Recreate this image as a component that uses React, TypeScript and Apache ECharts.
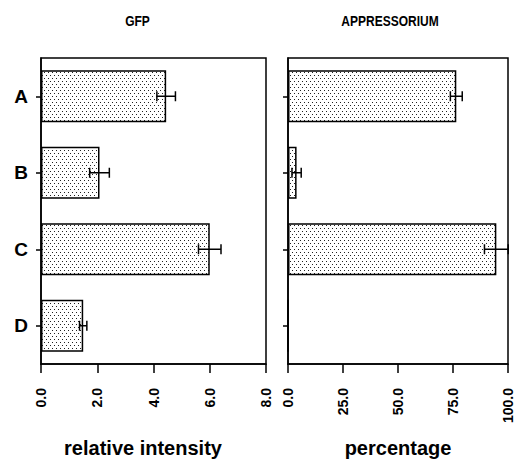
import React, { useEffect, useRef } from "react";
import * as echarts from "echarts";

const categories = ["A", "B", "C", "D"];
const gfpValues = [4.45, 2.08, 6.0, 1.5];
const gfpErrors = [0.33, 0.35, 0.4, 0.13];
const appValues = [76.5, 3.9, 94.7, 0];
const appErrors = [2.7, 2.1, 5.4, 0];
const gfpAxis = { min: 0, max: 8, interval: 2 };
const appAxis = { min: 0, max: 100, interval: 25 };
const panelTitles = ["GFP", "APPRESSORIUM"];
const axisNames = ["relative intensity", "percentage"];

const FONT = "'Liberation Sans', Arial, Helvetica, sans-serif";

function makePattern(): string {
  const c = document.createElement("canvas");
  c.width = 8;
  c.height = 6;
  const ctx = c.getContext("2d")!;
  ctx.fillStyle = "#ffffff";
  ctx.fillRect(0, 0, 8, 6);
  ctx.fillStyle = "#222222";
  ctx.fillRect(0, 0, 1, 1);
  ctx.fillRect(4, 0, 1, 1);
  ctx.fillRect(2, 3, 1, 1);
  ctx.fillRect(6, 3, 1, 1);
  return c.toDataURL();
}

function errorRender(params: any, api: any) {
  const v = api.value(0);
  const c = api.value(1);
  const e = api.value(2);
  if (!e) return null;
  const lo = api.coord([v - e, c]);
  const hi = api.coord([v + e, c]);
  const h = 5;
  const style = { stroke: "#000", lineWidth: 1.5 };
  return {
    type: "group",
    children: [
      { type: "line", shape: { x1: lo[0], y1: lo[1], x2: hi[0], y2: hi[1] }, style },
      { type: "line", shape: { x1: lo[0], y1: lo[1] - h, x2: lo[0], y2: lo[1] + h }, style },
      { type: "line", shape: { x1: hi[0], y1: hi[1] - h, x2: hi[0], y2: hi[1] + h }, style },
    ],
  };
}

export default function App() {
  const ref = useRef<HTMLDivElement>(null);
  useEffect(() => {
    if (!ref.current) return;
    const chart = echarts.init(ref.current, null, { renderer: "svg" });
    const pattern = {
      image: makePattern(),
      repeat: "repeat",
      imageWidth: 8,
      imageHeight: 6,
    };
    const axisLine = { show: true, lineStyle: { color: "#000", width: 1.5 } };
    const xAxisCommon = (ax: any, gridIndex: number) => ({
      type: "value",
      gridIndex,
      min: ax.min,
      max: ax.max,
      interval: ax.interval,
      axisLine,
      axisTick: { show: true, length: 9, lineStyle: { color: "#000", width: 1.5 } },
      splitLine: { show: false },
      axisLabel: {
        rotate: 90,
        margin: 24,
        color: "#000",
        fontFamily: FONT,
        fontWeight: "bold",
        fontSize: 14,
        formatter: (v: number) => v.toFixed(1),
      },
    });
    const yAxisCommon = (gridIndex: number, showLabel: boolean) => ({
      type: "category",
      gridIndex,
      data: categories,
      inverse: true,
      axisLine,
      axisTick: {
        show: true,
        alignWithLabel: true,
        length: 5,
        lineStyle: { color: "#000", width: 1.5 },
      },
      axisLabel: {
        show: showLabel,
        margin: 13,
        color: "#000",
        fontFamily: FONT,
        fontWeight: "bold",
        fontSize: 19,
      },
      splitLine: { show: false },
    });
    const barStyle = {
      color: pattern,
      borderColor: "#000",
      borderWidth: 1.5,
    };
    const titleText = (text: string, x: number) => ({
      type: "text",
      x,
      y: 21,
      scaleX: 0.8,
      style: {
        text,
        fill: "#000",
        font: `bold 15px ${FONT}`,
        textAlign: "center",
        textVerticalAlign: "middle",
      },
    });
    const nameText = (text: string, x: number) => ({
      type: "text",
      x,
      y: 448,
      style: {
        text,
        fill: "#000",
        font: `bold 20px ${FONT}`,
        textAlign: "center",
        textVerticalAlign: "middle",
      },
    });
    chart.setOption({
      animation: false,
      backgroundColor: "#fff",
      grid: [
        { left: 41, top: 58, width: 225, height: 306, show: true, borderColor: "#000", borderWidth: 1.5 },
        { left: 288, top: 58, width: 220, height: 306, show: true, borderColor: "#000", borderWidth: 1.5 },
      ],
      xAxis: [xAxisCommon(gfpAxis, 0), xAxisCommon(appAxis, 1)],
      yAxis: [yAxisCommon(0, true), yAxisCommon(1, false)],
      series: [
        {
          type: "bar",
          xAxisIndex: 0,
          yAxisIndex: 0,
          data: gfpValues,
          barWidth: 52,
          itemStyle: barStyle,
        },
        {
          type: "bar",
          xAxisIndex: 1,
          yAxisIndex: 1,
          data: appValues,
          barWidth: 52,
          itemStyle: barStyle,
        },
        {
          type: "custom",
          xAxisIndex: 0,
          yAxisIndex: 0,
          encode: { x: 0, y: 1 },
          data: gfpValues.map((v, i) => [v, i, gfpErrors[i]]),
          renderItem: errorRender,
          z: 5,
        },
        {
          type: "custom",
          xAxisIndex: 1,
          yAxisIndex: 1,
          encode: { x: 0, y: 1 },
          data: appValues.map((v, i) => [v, i, appErrors[i]]),
          renderItem: errorRender,
          z: 5,
        },
      ],
      graphic: [
        titleText(panelTitles[0], 137.5),
        titleText(panelTitles[1], 390),
        nameText(axisNames[0], 143),
        nameText(axisNames[1], 398),
      ],
    });
    return () => chart.dispose();
  }, []);
  return (
    <div
      ref={ref}
      style={{ position: "fixed", left: 0, top: 0, width: 515, height: 459 }}
    />
  );
}
